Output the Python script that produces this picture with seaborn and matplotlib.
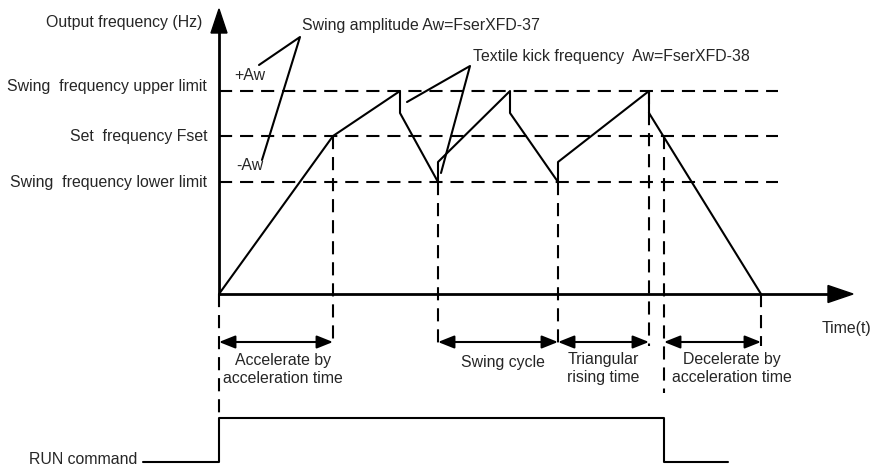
import matplotlib
matplotlib.use("Agg")
import matplotlib.pyplot as plt
import seaborn as sns
import pandas as pd

# ------------------------------------------------------------
# Diagram data (time units along t, frequency units along f)
# ------------------------------------------------------------
f_upper = 203
f_set = 158
f_lower = 112
f_kick_top = 181
f_kick_bottom = 132

curve_t = [0, 114, 181, 181, 219, 219, 291, 291, 339, 339, 430, 430, 542]
curve_f = [0, f_set, f_upper, f_kick_top, f_lower, f_kick_bottom, f_upper,
           f_kick_top, f_lower, f_kick_bottom, f_upper, f_kick_top, 0]

run_t = [-76, 0, 0, 445, 445, 509]
run_f = [-168, -168, -124, -124, -168, -168]

level_names = ["Swing  frequency upper limit", "Set  frequency Fset",
               "Swing  frequency lower limit"]
level_values = [f_upper, f_set, f_lower]
level_label_f = [207, 158, 112]
level_end_t = 559

# vertical guide lines: time, top, bottom
guide_t = [0, 114, 219, 339, 430, 445, 542]
guide_top = [0, f_set, f_lower, f_lower, f_upper, f_set, 0]
guide_bottom = [-126, -52, -52, -52, -52, -99, -52]

# time spans with their labels
span_start = [0, 219, 339, 445]
span_end = [114, 339, 430, 542]
span_labels = ["Accelerate by\nacceleration time", "Swing cycle",
               "Triangular\nrising time", "Decelerate by\nacceleration time"]
span_label_t = [64, 284, 384, 513]
span_label_f = [-75.5, -68, -74.5, -74.5]

# ------------------------------------------------------------
# Figure
# ------------------------------------------------------------
sns.set_style("white")
plt.rcParams['font.family'] = ['Liberation Sans', 'DejaVu Sans']
fs = 11.4
lw = 1.5

fig = plt.figure(figsize=(8.71, 4.65), dpi=100)
ax = fig.add_axes([0, 0, 1, 1])
ax.set_xlim(-219, 652)
ax.set_ylim(-171, 294)
ax.axis('off')

# frequency curve
df = pd.DataFrame({'t': curve_t, 'f': curve_f})
sns.lineplot(data=df, x='t', y='f', sort=False, estimator=None, color='black',
             linewidth=lw, ax=ax)

# RUN command signal
run_df = pd.DataFrame({'t': run_t, 'f': run_f})
sns.lineplot(data=run_df, x='t', y='f', sort=False, estimator=None, color='black',
             linewidth=lw, ax=ax)

# horizontal dashed levels
for name, val, lf in zip(level_names, level_values, level_label_f):
    ax.plot([0, level_end_t], [val, val], color='black', linewidth=lw,
            dashes=(6.3, 3.8))
    ax.text(-12, lf, name, ha='right', va='center', fontsize=fs)

# vertical dashed guides
for t, top, bot in zip(guide_t, guide_top, guide_bottom):
    ax.plot([t, t], [top, bot], color='black', linewidth=lw, dashes=(6.3, 3.8))

# axes with arrows
ax.plot([0, 0], [0, 262], color='black', linewidth=2)
ax.fill([-8, 8, 0], [261, 261, 285], color='black')
ax.plot([0, 610], [0, 0], color='black', linewidth=2)
ax.fill([609, 609, 634], [8.5, -8.5, 0], color='black')
ax.text(-17, 271, "Output frequency (Hz)", ha='right', va='center', fontsize=fs)
ax.text(627, -34, "Time(t)", ha='center', va='center', fontsize=fs)

# span arrows and labels
for s, e in zip(span_start, span_end):
    ax.annotate('', xy=(e, -48), xytext=(s, -48),
                arrowprops=dict(arrowstyle='<|-|>,head_length=0.7,head_width=0.28',
                                color='black', lw=lw, shrinkA=0, shrinkB=0,
                                mutation_scale=14))
for lab, lt, lf in zip(span_labels, span_label_t, span_label_f):
    ax.text(lt, lf, lab, ha='center', va='center', fontsize=fs, linespacing=1.25)

# annotations
ax.text(83, 268, "Swing amplitude Aw=FserXFD-37", ha='left', va='center', fontsize=fs)
ax.plot([40, 81, 43], [229, 257, 134], color='black', linewidth=lw)
ax.text(15, 218, "+Aw", ha='left', va='center', fontsize=fs)
ax.text(17, 129, "-Aw", ha='left', va='center', fontsize=fs)

ax.text(254, 237, "Textile kick frequency  Aw=FserXFD-38", ha='left', va='center',
        fontsize=fs)
ax.plot([188, 251, 222], [192, 228, 121], color='black', linewidth=lw)

ax.text(-82, -165, "RUN command", ha='right', va='center', fontsize=fs)

fig.savefig('out.png', dpi=100)
